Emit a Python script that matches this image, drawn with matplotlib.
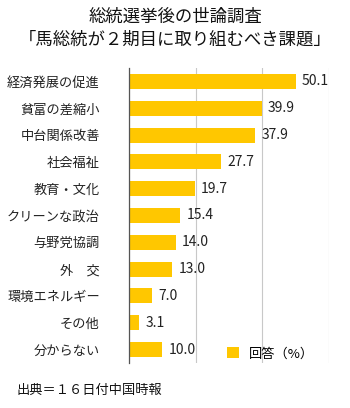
import matplotlib
matplotlib.use("Agg")
import matplotlib.pyplot as plt
from matplotlib.patches import Patch

plt.rcParams['font.family'] = ['Noto Sans CJK JP', 'DejaVu Sans']

categories = ["経済発展の促進", "貧富の差縮小", "中台関係改善", "社会福祉", "教育・文化",
              "クリーンな政治", "与野党協調", "外　交", "環境エネルギー", "その他", "分からない"]
values = [50.1, 39.9, 37.9, 27.7, 19.7, 15.4, 14.0, 13.0, 7.0, 3.1, 10.0]
value_labels = ["50.1", "39.9", "37.9", "27.7", "19.7", "15.4", "14.0", "13.0", "7.0", "3.1", "10.0"]
title = "総統選挙後の世論調査\n「馬総統が２期目に取り組むべき課題」"
legend_label = "回答（%）"
source = "出典＝１６日付中国時報"

W, H = 350, 408
fig = plt.figure(figsize=(W / 100, H / 100), dpi=100)
fig.patch.set_facecolor("white")

left, right, top, bottom = 129, 329, 68, 363
ax = fig.add_axes([left / W, 1 - bottom / H, (right - left) / W, (bottom - top) / H])

color = "#FFC700"
y = list(range(len(categories)))
ax.barh(y, values, height=0.56, color=color, zorder=3)
ax.set_xlim(0, 60)
ax.set_ylim(len(categories) - 0.5, -0.5)

for yi, v, lab in zip(y, values, value_labels):
    ax.text(v + 1.8, yi, lab, va="center", ha="left", fontsize=10, color="#222222", zorder=4)

ax.set_yticks(y)
ax.set_yticklabels(categories, fontsize=9.5, color="#222222")
ax.tick_params(axis="y", length=0, pad=21)
ax.set_xticks([0, 20, 40, 60])
ax.set_xticklabels([])
ax.tick_params(axis="x", length=0)
ax.grid(axis="x", color="#c8c8c8", linewidth=0.8, zorder=0)
for s in ["top", "right", "bottom"]:
    ax.spines[s].set_visible(False)
ax.spines["left"].set_color("#555555")
ax.spines["left"].set_linewidth(0.9)
ax.spines["left"].set_zorder(5)

leg = ax.legend(handles=[Patch(facecolor=color, edgecolor="none", label=legend_label)],
                loc="lower left", bbox_to_anchor=((224 - left) / (right - left), 0.0),
                frameon=False, fontsize=9.5, handlelength=0.9, handleheight=0.9,
                handletextpad=0.8, borderaxespad=0.0, borderpad=0.2)

fig.text(175 / W, 1 - 8 / H, title, ha="center", va="top", fontsize=12.5,
         linespacing=1.35, color="#111111")
fig.text(17 / W, 1 - 390 / H, source, ha="left", va="center", fontsize=9.5, color="#111111")

fig.savefig("out.png", dpi=100, facecolor="white")
